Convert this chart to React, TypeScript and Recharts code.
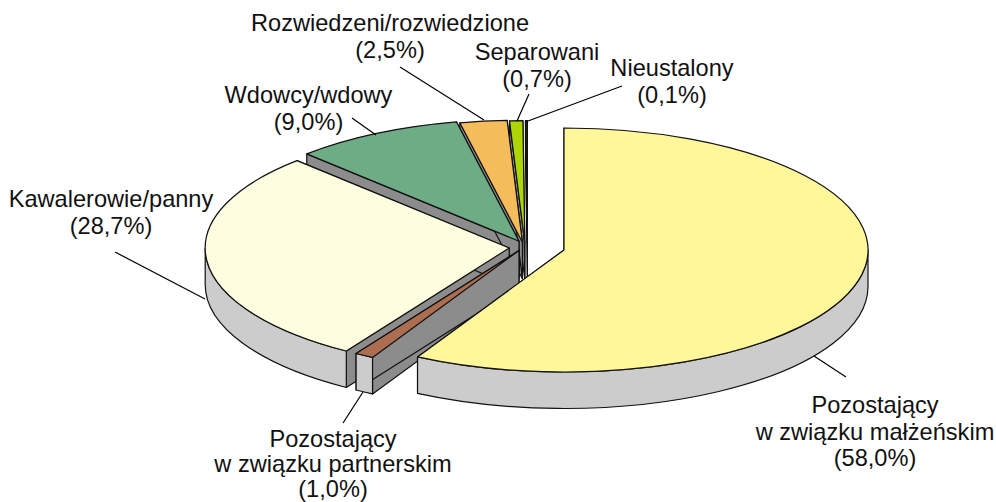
import { Pie, PieChart } from "recharts";

// drawn back to front, so the list runs anticlockwise from the top of the pie
const categories = [
  ["Nieustalony", "(0,1%)"],
  ["Separowani", "(0,7%)"],
  ["Rozwiedzeni/rozwiedzione", "(2,5%)"],
  ["Wdowcy/wdowy", "(9,0%)"],
  ["Kawalerowie/panny", "(28,7%)"],
  ["Pozostający", "w związku partnerskim", "(1,0%)"],
  ["Pozostający", "w związku małżeńskim", "(58,0%)"],
];
const shares = [0.1, 0.7, 2.5, 9.0, 28.7, 1.0, 58.0];

const colors = ["#1a2e00", "#aed600", "#f5bc5c", "#6dac85", "#fffde0", "#ad6d50", "#fff799"];

// how far each slice is pulled out of the pie
const explode = [
  [-9, -4.5],
  [-11.6, -4.5],
  [-14, -5],
  [-17.4, -6],
  [-27.2, 0.8],
  [-17.4, 3.3],
  [27.6, 2.8],
];

// label anchor, line gap, and leader line from text to slice
const labelPos = [
  { x: 672, y: 76, gap: 26.5, line: [622, 86, 528, 121] },
  { x: 537, y: 60, gap: 26.5, line: [529, 94, 517, 121] },
  { x: 390, y: 31, gap: 27, line: [400, 67, 484, 120] },
  { x: 308.5, y: 103, gap: 27, line: [352, 118, 376, 135] },
  { x: 111, y: 207, gap: 27, line: [115, 252, 205, 299] },
  { x: 333, y: 447, gap: 25, line: [343, 423, 363, 392] },
  { x: 875, y: 413, gap: 26.5, line: [846, 377, 814, 356] },
];

const ASPECT = 0.4013;
const DEPTH = 36.5;
const RAD = Math.PI / 180;
const WALL_LIGHT = "#cccccc";
const WALL_DARK = "#8c8c8c";
const LINE = "#111111";

const SliceShape = (props: any) => {
  const { cx, cy, outerRadius, startAngle, endAngle, fill, index } = props;
  const i = index ?? shares.indexOf(props.value);
  const ox = cx + explode[i][0];
  const oy = cy + explode[i][1];
  const rx = outerRadius;
  const ry = outerRadius * ASPECT;
  const px = (a: number) => ox + rx * Math.cos(a * RAD);
  const py = (a: number) => oy - ry * Math.sin(a * RAD);

  // angles run anticlockwise here: a0 is the clockwise-most edge
  const a0 = Math.min(startAngle, endAngle);
  const a1 = Math.max(startAngle, endAngle);
  const large = a1 - a0 > 180 ? 1 : 0;
  const top = `M${ox},${oy} L${px(a0)},${py(a0)} A${rx},${ry} 0 ${large} 0 ${px(a1)},${py(a1)} Z`;

  // radial walls
  const wall = (a: number) =>
    `M${ox},${oy} L${px(a)},${py(a)} L${px(a)},${py(a) + DEPTH} L${ox},${oy + DEPTH} Z`;

  // rim, only the part of the arc facing the viewer (180..360 degrees)
  const rims: string[] = [];
  for (const k of [-360, 0, 360]) {
    const s = Math.max(a0, 180 + k);
    const e = Math.min(a1, 360 + k);
    if (e > s) {
      rims.push(
        `M${px(s)},${py(s)} A${rx},${ry} 0 0 0 ${px(e)},${py(e)} L${px(e)},${py(e) + DEPTH} A${rx},${ry} 0 0 1 ${px(s)},${py(s) + DEPTH} Z`,
      );
    }
  }

  return (
    <g>
      <path d={wall(a1)} fill={WALL_DARK} stroke={LINE} strokeWidth={1.2} strokeLinejoin="round" />
      <path d={wall(a0)} fill={WALL_DARK} stroke={LINE} strokeWidth={1.2} strokeLinejoin="round" />
      {rims.map((d) => (
        <path key={d} d={d} fill={WALL_LIGHT} stroke={LINE} strokeWidth={1.2} strokeLinejoin="round" />
      ))}
      <path d={top} fill={fill} stroke={LINE} strokeWidth={1.2} strokeLinejoin="round" />
    </g>
  );
};

const SliceLabel = ({ index }: any) => {
  const pos = labelPos[index];
  const [x1, y1, x2, y2] = pos.line;
  return (
    <g>
      <line x1={x1} y1={y1} x2={x2} y2={y2} stroke="#000" strokeWidth={1.2} />
      <text
        x={pos.x}
        y={pos.y}
        textAnchor="middle"
        fontFamily="Liberation Sans"
        fontSize={23.6}
        fill="#111"
      >
        {categories[index].map((t, n) => (
          <tspan key={t} x={pos.x} dy={n === 0 ? 0 : pos.gap}>
            {t}
          </tspan>
        ))}
      </text>
    </g>
  );
};

const chartData = categories.map((c, i) => ({
  name: c.join(" "),
  value: shares[i],
  fill: colors[i],
}));

export default function App() {
  return (
    <div style={{ position: "absolute", left: 0, top: 0 }}>
      <PieChart width={996} height={502} margin={{ top: 0, right: 0, bottom: 0, left: 0 }}>
        <Pie
          data={chartData}
          dataKey="value"
          cx={536.4}
          cy={247.2}
          outerRadius={304}
          startAngle={90}
          endAngle={450}
          isAnimationActive={false}
          shape={SliceShape}
          label={SliceLabel}
          labelLine={false}
        />
      </PieChart>
    </div>
  );
}
